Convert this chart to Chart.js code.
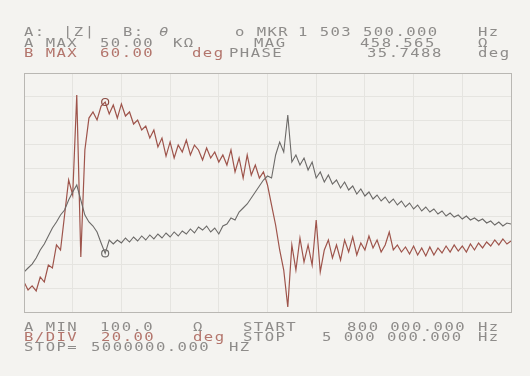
<!DOCTYPE html>
<html>
<head>
<meta charset="utf-8">
<script src="https://cdn.jsdelivr.net/npm/chart.js@4/dist/chart.umd.min.js"></script>
<style>
  html, body { margin: 0; padding: 0; }
  body { width: 530px; height: 376px; background: #f4f3f0; position: relative; overflow: hidden; }
  #myChart { position: absolute; left: 0; top: 0; }
  .t { position: absolute; font-family: "DejaVu Sans Mono", monospace; font-size: 12px; line-height: 12px;
       letter-spacing: 1.1px; white-space: pre; color: #8e8c8a; transform: scaleX(1.3); transform-origin: 0 0; }
  .b { color: #b3756c; }
</style>
</head>
<body>
<canvas id="myChart" width="530" height="376"></canvas>

<!-- header -->
<div class="t" style="left:24px;top:26px">A:</div>
<div class="t" style="left:63px;top:26px">|Z|</div>
<div class="t" style="left:123px;top:26px">B:</div>
<div class="t" style="left:159px;top:26px;font-style:italic">θ</div>
<div class="t" style="left:235px;top:26px">o MKR</div>
<div class="t" style="left:298px;top:26px">1 503 500.000</div>
<div class="t" style="left:478px;top:26px">Hz</div>

<div class="t" style="left:24px;top:36.5px">A MAX</div>
<div class="t" style="left:100px;top:36.5px">50.00</div>
<div class="t" style="left:173px;top:36.5px">KΩ</div>
<div class="t" style="left:254px;top:36.5px">MAG</div>
<div class="t" style="left:360px;top:36.5px">458.565</div>
<div class="t" style="left:478px;top:36.5px">Ω</div>

<div class="t b" style="left:24px;top:47px">B MAX</div>
<div class="t b" style="left:100px;top:47px">60.00</div>
<div class="t b" style="left:192px;top:47px">deg</div>
<div class="t" style="left:229px;top:47px">PHASE</div>
<div class="t" style="left:367px;top:47px">35.7488</div>
<div class="t" style="left:478px;top:47px">deg</div>

<!-- footer -->
<div class="t" style="left:24px;top:321px">A MIN</div>
<div class="t" style="left:100px;top:321px">100.0</div>
<div class="t" style="left:193px;top:321px">Ω</div>
<div class="t" style="left:243px;top:321px">START</div>
<div class="t" style="left:347px;top:321px">800 000.000</div>
<div class="t" style="left:478px;top:321px">Hz</div>

<div class="t b" style="left:24px;top:331px">B/DIV</div>
<div class="t b" style="left:101px;top:331px">20.00</div>
<div class="t b" style="left:193px;top:331px">deg</div>
<div class="t" style="left:243px;top:331px">STOP</div>
<div class="t" style="left:322px;top:331px">5 000 000.000</div>
<div class="t" style="left:478px;top:331px">Hz</div>

<div class="t" style="left:24px;top:341px">STOP=</div>
<div class="t" style="left:91px;top:341px">5000000.000</div>
<div class="t" style="left:229px;top:341px">HZ</div>

<script>
// sweep (MHz)
const START_MHZ = 0.8;
const STOP_MHZ = 5.0;
const POINTS = 121;
const freqMHz = Array.from({length: POINTS}, (_, i) => START_MHZ + i * (STOP_MHZ - START_MHZ) / (POINTS - 1));

// marker at 1.5035 MHz
const MARKER_INDEX = 20;

// A: |Z| in ohm (log, 100 .. 50k)
const magOhm = [
  283, 314, 348, 407, 501, 586, 722, 888, 1038, 1245,
  1418, 1840, 2265, 2717, 1840, 1245, 1038, 936, 801, 602,
  458.565, 650, 586, 650, 602, 685, 617, 703, 634, 722,
  650, 741, 668, 760, 685, 780, 703, 801, 722, 822,
  760, 866, 780, 912, 843, 936, 801, 888, 760, 936,
  986, 1152, 1094, 1346, 1494, 1658, 1938, 2265, 2647, 3095,
  3434, 3260, 5928, 8312, 6411, 16780, 4942, 5928, 4571, 5483,
  4013, 4942, 3260, 3810, 2938, 3525, 2788, 3095, 2513, 2938,
  2386, 2647, 2150, 2449, 2042, 2265, 1888, 2096, 1792, 1989,
  1702, 1888, 1616, 1792, 1534, 1702, 1456, 1616, 1382, 1534,
  1346, 1456, 1278, 1382, 1213, 1312, 1182, 1245, 1122, 1213,
  1094, 1152, 1066, 1122, 1012, 1066, 960, 1038, 936, 1012,
  986
];

// B: phase in degrees (-140 .. 60)
const phaseDeg = [
  -114.9, -121.6, -118.2, -122.4, -110.7, -114.9, -100.7, -103.2, -83.9, -88.1,
  -58.8, -29.5, -42.1, 41.6, -94.0, -4.4, 22.3, 27.4, 20.7, 32.4,
  35.7488, 25.7, 33.2, 22.3, 34.1, 24.0, 27.4, 17.3, 20.7, 12.3,
  15.6, 5.6, 12.3, -1.9, 5.6, -9.5, 2.3, -11.1, -0.3, -6.1,
  3.9, -8.6, -0.3, -4.4, -12.8, -2.8, -11.1, -6.1, -14.5, -8.6,
  -17.0, -4.4, -22.8, -11.1, -27.9, -8.6, -25.4, -17.0, -27.9, -22.8,
  -33.7, -50.5, -67.2, -88.1, -104.9, -135.8, -83.9, -104.9, -78.1, -98.2,
  -83.9, -100.7, -63.0, -106.5, -88.1, -79.7, -94.8, -83.9, -96.5, -79.7,
  -89.8, -77.2, -92.3, -82.3, -88.1, -76.4, -86.4, -79.7, -89.8, -83.9,
  -73.1, -88.1, -83.9, -89.8, -85.6, -91.5, -84.8, -92.3, -86.4, -93.1,
  -85.6, -92.3, -86.4, -90.6, -84.8, -89.8, -83.9, -89.0, -84.8, -89.8,
  -83.1, -88.1, -82.3, -86.4, -81.4, -84.8, -79.7, -83.9, -78.9, -83.1,
  -80.6
];

// 10 divisions each way
const xDivs = Array.from({length: 11}, (_, i) => START_MHZ + i * (STOP_MHZ - START_MHZ) / 10);

const markerRadius = (c) => c.dataIndex === MARKER_INDEX ? 3.5 : 0;

const frame = {
  id: 'frame',
  afterDraw(chart) {
    const {ctx, chartArea: a} = chart;
    ctx.save();
    ctx.strokeStyle = '#b9b7b3';
    ctx.lineWidth = 1;
    ctx.strokeRect(a.left + 0.5, a.top + 0.5, a.right - a.left, a.bottom - a.top);
    ctx.restore();
  }
};

const ctx = document.getElementById('myChart');

const lineChart = new Chart(ctx, {
  type: 'line',
  data: {
    datasets: [
      {
        label: '|Z|',
        data: freqMHz.map((f, i) => ({x: f, y: magOhm[i]})),
        yAxisID: 'yA',
        borderColor: '#6c6a68',
        borderWidth: 1.1,
        tension: 0,
        pointRadius: markerRadius,
        pointBorderColor: '#6e6c6a',
        pointBackgroundColor: 'rgba(0,0,0,0)',
        pointBorderWidth: 1.2,
      },
      {
        label: 'θ',
        data: freqMHz.map((f, i) => ({x: f, y: phaseDeg[i]})),
        yAxisID: 'yB',
        borderColor: '#9e544b',
        borderWidth: 1.2,
        tension: 0,
        pointRadius: markerRadius,
        pointBorderColor: '#8a4a42',
        pointBackgroundColor: 'rgba(0,0,0,0)',
        pointBorderWidth: 1.2,
      }
    ]
  },
  options: {
    responsive: false,
    animation: false,
    layout: { padding: { left: 24, right: 19, top: 73, bottom: 64 } },
    plugins: { legend: { display: false }, tooltip: { enabled: false } },
    scales: {
      x: {
        type: 'linear',
        min: START_MHZ,
        max: STOP_MHZ,
        afterBuildTicks: (axis) => { axis.ticks = xDivs.map(v => ({value: v})); },
        ticks: { display: false },
        grid: { color: '#e5e4e0', drawTicks: false },
        border: { display: false },
      },
      yB: {
        position: 'left',
        min: -140,
        max: 60,
        ticks: { display: false, stepSize: 20 },
        grid: { color: '#e5e4e0', drawTicks: false },
        border: { display: false },
      },
      yA: {
        type: 'logarithmic',
        position: 'right',
        min: 100,
        max: 50000,
        display: false,
      }
    }
  },
  plugins: [frame]
});
</script>
</body>
</html>
